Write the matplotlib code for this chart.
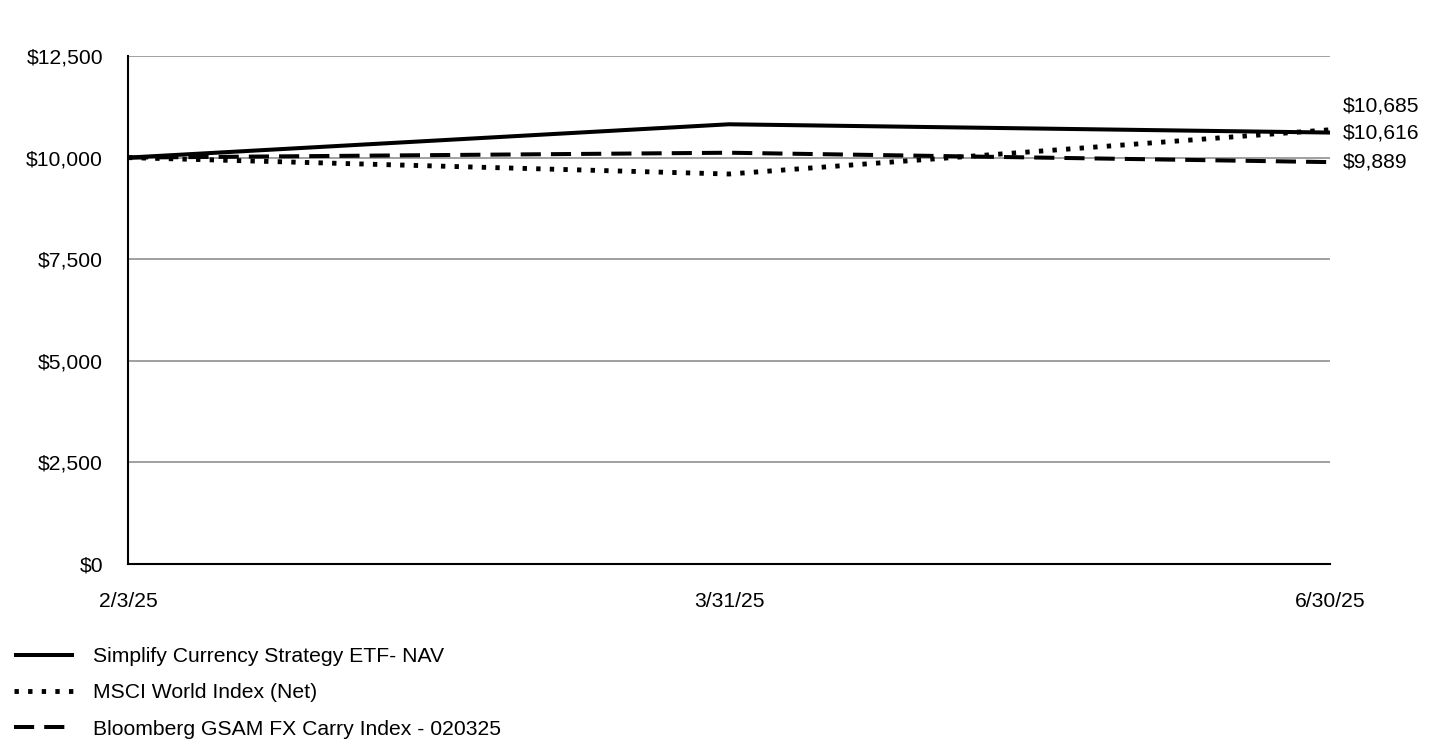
import matplotlib
matplotlib.use("Agg")
import matplotlib.pyplot as plt
from matplotlib.ticker import FuncFormatter

plt.rcParams['font.family'] = ['Liberation Sans', 'DejaVu Sans']
plt.rcParams['font.size'] = 15.2

# data
dates = ["2/3/25", "3/31/25", "6/30/25"]
fund = [10000, 10820, 10616]
msci = [10000, 9596, 10685]
carry = [10000, 10120, 9889]
names = ["Simplify Currency Strategy ETF- NAV",
         "MSCI World Index (Net)",
         "Bloomberg GSAM FX Carry Index - 020325"]
end_labels = ["$10,616", "$10,685", "$9,889"]
label_shift = [0, 17, 0]   # points, to keep end labels apart

fig = plt.figure(figsize=(14.4, 7.44), dpi=100)
ax = fig.add_axes([128/1440, 1-564/744, (1330-128)/1440, (564-56)/744])

x = range(len(dates))
l1, = ax.plot(x, fund, color="black", lw=2.9, solid_capstyle="butt", zorder=3)
l2, = ax.plot(x, msci, color="black", lw=3.5, linestyle=(0, (0.9, 1.9)),
              dash_capstyle="butt", zorder=3)
l3, = ax.plot(x, carry, color="black", lw=2.9, linestyle=(0, (5, 2.5)),
              dash_capstyle="butt", zorder=3)

for series, lab, dy in zip([fund, msci, carry], end_labels, label_shift):
    ax.annotate(lab, xy=(x[-1], series[-1]), xytext=(9, dy),
                textcoords="offset points", ha="left", va="center",
                annotation_clip=False)

ax.set_xlim(0, len(dates) - 1)
ax.set_ylim(0, 12500)
ax.set_yticks(range(0, 12501, 2500))
ax.yaxis.set_major_formatter(FuncFormatter(lambda v, p: f"${v:,.0f}"))
ax.set_xticks(list(x))
ax.set_xticklabels(dates)
ax.grid(axis="y", color="#999999", lw=1.3, zorder=0)
ax.tick_params(axis="y", length=0, pad=18)
ax.tick_params(axis="x", length=0, pad=20)
for s in ["top", "right"]:
    ax.spines[s].set_visible(False)
for s in ["left", "bottom"]:
    ax.spines[s].set_color("black")
    ax.spines[s].set_linewidth(1.5)
ax.set_axisbelow(True)

fig.legend([l1, l2, l3], names, loc="upper left",
           bbox_to_anchor=(14/1440, 1-647/744), frameon=False,
           handlelength=2.85, handletextpad=0.9, labelspacing=0.82,
           borderpad=0, borderaxespad=0, fontsize=15.2)

fig.savefig("out.png", dpi=100)
